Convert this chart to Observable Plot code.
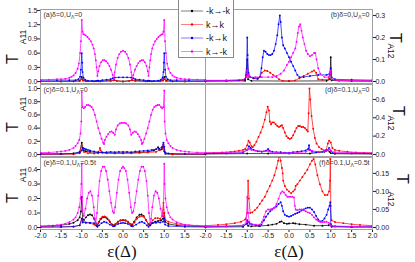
<!DOCTYPE html>
<html><head><meta charset="utf-8">
<script src="https://cdn.jsdelivr.net/npm/d3@7"></script>
<script src="https://cdn.jsdelivr.net/npm/@observablehq/plot@0.6"></script>
<style>
body{margin:0;background:#fff;}
#c{position:relative;width:415px;height:262px;overflow:hidden;font-family:"Liberation Sans",Arial,sans-serif;background:#fff;}
#c svg{position:absolute;overflow:visible;}
#leg{position:absolute;left:178px;top:-1px;width:54px;height:57px;border:1px solid #888;background:#fff;}
</style></head><body><div id="c"></div>
<script>
// ---------- data ----------
const seriesNames = ["-k→-k", "k→k", "-k→k", "k→-k"];
const seriesColors = ["#000000", "#ff0000", "#0000ff", "#ff00ff"];

const xTicksLeft = [-2, -1.5, -1, -0.5, 0, 0.5, 1, 1.5];
const xTicksRight = [-2, -1.5, -1, -0.5, 0, 0.5, 1, 1.5, 2];
const yTicksA = [0, 0.3, 0.6, 0.9, 1.2, 1.5];
const yTicksB = [0, 0.1, 0.2, 0.3];
const yTicksC = [0, 0.2, 0.4, 0.6, 0.8, 1.0];
const yTicksD = [0, 0.2, 0.4, 0.6];
const yTicksE = [0, 0.1, 0.2, 0.3, 0.4];
const yTicksF = [0, 0.05, 0.10, 0.15];

// panel (a) T_A11, δ=0, UΛ=0
const a_black = [[-2,0.005],[-1.5,0.005],[-1.2,0.005],[-1.05,0.02],[-1,0.1],[-0.97,0.03],[-0.9,0.01],[-0.7,0.005],[-0.62,0.02],[-0.55,0.005],[-0.22,0.03],[0,0.003],[0.22,0.03],[0.55,0.005],[0.62,0.02],[0.7,0.005],[0.9,0.01],[0.97,0.03],[1,0.1],[1.05,0.02],[1.2,0.005],[1.5,0.005],[2,0.005]];
const a_red = [[-2,0.003],[-1.5,0.003],[-1.05,0.01],[-1,0.05],[-0.97,0.02],[-0.9,0.005],[-0.6,0.005],[-0.3,0.01],[-0.22,0.03],[-0.15,0.01],[0,0.005],[0.15,0.01],[0.22,0.03],[0.3,0.01],[0.6,0.005],[0.9,0.005],[0.97,0.02],[1,0.05],[1.05,0.01],[1.5,0.003],[2,0.003]];
const a_blue = [[-2,0.03],[-1.6,0.03],[-1.3,0.03],[-1.15,0.03],[-1.08,0.05],[-1.04,0.1],[-1.02,0.25],[-1,0.6],[-0.99,0.4],[-0.98,0.2],[-0.96,0.08],[-0.92,0.04],[-0.85,0.02],[-0.75,0.015],[-0.65,0.015],[-0.6,0.02],[-0.5,0.03],[-0.4,0.04],[-0.3,0.05],[-0.25,0.07],[-0.2,0.085],[-0.1,0.09],[0,0.09],[0.1,0.09],[0.2,0.085],[0.25,0.07],[0.3,0.05],[0.4,0.04],[0.5,0.03],[0.6,0.02],[0.65,0.015],[0.75,0.015],[0.85,0.02],[0.92,0.04],[0.96,0.08],[0.98,0.2],[0.99,0.4],[1,0.6],[1.02,0.25],[1.04,0.1],[1.08,0.05],[1.15,0.03],[1.3,0.03],[1.6,0.03],[2,0.03]];
const a_magenta = [[-2,0.04],[-1.8,0.04],[-1.6,0.05],[-1.5,0.05],[-1.4,0.06],[-1.3,0.08],[-1.25,0.1],[-1.2,0.13],[-1.15,0.18],[-1.1,0.27],[-1.07,0.38],[-1.04,0.6],[-1.02,0.85],[-1,1.3],[-0.98,1.05],[-0.96,1.0],[-0.93,0.99],[-0.9,0.97],[-0.86,0.94],[-0.82,0.9],[-0.78,0.85],[-0.74,0.78],[-0.71,0.7],[-0.68,0.58],[-0.66,0.45],[-0.64,0.3],[-0.62,0.12],[-0.6,0.22],[-0.57,0.33],[-0.53,0.41],[-0.49,0.45],[-0.45,0.45],[-0.41,0.43],[-0.37,0.39],[-0.33,0.33],[-0.29,0.25],[-0.25,0.14],[-0.22,0.06],[-0.2,0.2],[-0.17,0.36],[-0.13,0.5],[-0.09,0.58],[-0.05,0.63],[0,0.65],[0.05,0.63],[0.09,0.58],[0.13,0.5],[0.17,0.36],[0.2,0.2],[0.22,0.06],[0.25,0.14],[0.29,0.25],[0.33,0.33],[0.37,0.39],[0.41,0.43],[0.45,0.45],[0.49,0.45],[0.53,0.41],[0.57,0.33],[0.6,0.22],[0.62,0.12],[0.64,0.3],[0.66,0.45],[0.68,0.58],[0.71,0.7],[0.74,0.78],[0.78,0.85],[0.82,0.9],[0.86,0.94],[0.9,0.97],[0.93,0.99],[0.96,1.0],[0.98,1.05],[1,1.3],[1.02,0.85],[1.04,0.6],[1.07,0.38],[1.1,0.27],[1.15,0.18],[1.2,0.13],[1.25,0.1],[1.3,0.08],[1.4,0.06],[1.5,0.05],[1.6,0.05],[1.8,0.04],[2,0.04]];

// panel (b) T_A12, δ=0, UΛ=0
const b_black = [[-2,0.001],[-1.5,0.002],[-1.05,0.003],[-1,0.1],[-0.98,0.01],[-0.9,0.003],[0,0.002],[0.9,0.003],[0.98,0.01],[1,0.11],[1.02,0.005],[1.5,0.002],[2,0.001]];
const b_red = [[-2,0.003],[-1.5,0.003],[-1.1,0.005],[-1.02,0.02],[-1,0.058],[-0.98,0.03],[-0.95,0.02],[-0.85,0.015],[-0.75,0.01],[-0.7,0.02],[-0.65,0.04],[-0.58,0.05],[-0.52,0.048],[-0.45,0.04],[-0.38,0.03],[-0.3,0.02],[-0.24,0.01],[-0.15,0.003],[0,0.002],[0.15,0.005],[0.25,0.015],[0.35,0.025],[0.45,0.035],[0.55,0.045],[0.6,0.05],[0.65,0.04],[0.7,0.01],[0.8,0.008],[0.95,0.01],[0.98,0.03],[1,0.045],[1.02,0.01],[1.2,0.003],[2,0.003]];
const b_blue = [[-2,0.005],[-1.5,0.005],[-1.2,0.006],[-1.05,0.01],[-1.02,0.03],[-1,0.2],[-0.99,0.12],[-0.97,0.04],[-0.93,0.02],[-0.85,0.015],[-0.75,0.015],[-0.7,0.02],[-0.66,0.06],[-0.63,0.11],[-0.6,0.14],[-0.56,0.135],[-0.52,0.125],[-0.48,0.12],[-0.44,0.12],[-0.4,0.125],[-0.36,0.14],[-0.32,0.17],[-0.28,0.21],[-0.25,0.26],[-0.22,0.3],[-0.2,0.27],[-0.17,0.2],[-0.14,0.165],[-0.1,0.15],[-0.05,0.13],[0,0.11],[0.05,0.09],[0.1,0.07],[0.15,0.05],[0.2,0.03],[0.25,0.02],[0.35,0.02],[0.5,0.025],[0.7,0.03],[0.9,0.03],[0.97,0.035],[1,0.06],[1.02,0.02],[1.1,0.01],[1.5,0.008],[2,0.006]];
const b_magenta = [[-2,0.005],[-1.5,0.005],[-1.1,0.008],[-1.02,0.02],[-1,0.05],[-0.98,0.03],[-0.95,0.02],[-0.8,0.02],[-0.65,0.02],[-0.5,0.02],[-0.4,0.02],[-0.3,0.025],[-0.2,0.035],[-0.12,0.05],[-0.05,0.075],[0,0.09],[0.05,0.11],[0.1,0.13],[0.15,0.15],[0.18,0.18],[0.21,0.22],[0.24,0.25],[0.27,0.26],[0.3,0.23],[0.33,0.2],[0.37,0.17],[0.41,0.14],[0.45,0.125],[0.5,0.115],[0.55,0.12],[0.6,0.13],[0.63,0.13],[0.66,0.1],[0.7,0.06],[0.75,0.035],[0.85,0.02],[0.95,0.02],[0.98,0.04],[1,0.05],[1.02,0.01],[1.2,0.005],[2,0.005]];

// panel (c) T_A11, δ=0.1, UΛ=0
const c_black = [[-2,0.005],[-1.5,0.008],[-1.2,0.015],[-1.05,0.04],[-1,0.18],[-0.98,0.1],[-0.95,0.06],[-0.9,0.05],[-0.8,0.04],[-0.6,0.03],[-0.4,0.025],[-0.2,0.02],[0,0.02],[0.2,0.025],[0.4,0.03],[0.6,0.04],[0.75,0.06],[0.85,0.11],[0.88,0.07],[0.94,0.08],[0.98,0.12],[1,0.05],[1.03,0.01],[1.2,0.005],[2,0.003]];
const c_red = [[-2,0.003],[-1.2,0.005],[-1.05,0.02],[-1,0.14],[-0.98,0.08],[-0.95,0.04],[-0.85,0.02],[-0.7,0.015],[-0.6,0.02],[-0.56,0.1],[-0.54,0.06],[-0.5,0.03],[-0.4,0.02],[-0.2,0.02],[0,0.025],[0.2,0.02],[0.4,0.025],[0.6,0.03],[0.8,0.04],[0.9,0.07],[0.95,0.1],[0.98,0.15],[1,0.08],[1.03,0.02],[1.2,0.005],[2,0.003]];
const c_blue = [[-2,0.01],[-1.5,0.01],[-1.2,0.015],[-1.05,0.03],[-1,0.06],[-0.97,0.1],[-0.94,0.09],[-0.9,0.08],[-0.85,0.07],[-0.8,0.06],[-0.7,0.045],[-0.6,0.035],[-0.5,0.03],[-0.4,0.035],[-0.3,0.04],[-0.2,0.035],[-0.1,0.04],[0,0.04],[0.1,0.04],[0.2,0.035],[0.3,0.045],[0.4,0.05],[0.5,0.055],[0.6,0.06],[0.7,0.07],[0.8,0.08],[0.88,0.09],[0.94,0.11],[0.98,0.18],[1,0.12],[1.02,0.03],[1.1,0.015],[1.5,0.01],[2,0.01]];
const c_magenta = [[-2,0.03],[-1.8,0.03],[-1.6,0.04],[-1.5,0.045],[-1.4,0.055],[-1.3,0.07],[-1.2,0.1],[-1.15,0.13],[-1.1,0.17],[-1.06,0.22],[-1.03,0.32],[-1.01,0.5],[-1,0.95],[-0.98,0.72],[-0.95,0.7],[-0.92,0.72],[-0.88,0.75],[-0.84,0.75],[-0.8,0.74],[-0.76,0.72],[-0.72,0.68],[-0.68,0.6],[-0.64,0.5],[-0.6,0.4],[-0.56,0.32],[-0.52,0.24],[-0.48,0.18],[-0.46,0.16],[-0.44,0.22],[-0.4,0.27],[-0.36,0.31],[-0.32,0.34],[-0.28,0.35],[-0.24,0.33],[-0.2,0.3],[-0.17,0.38],[-0.13,0.44],[-0.08,0.47],[-0.04,0.48],[0,0.48],[0.04,0.48],[0.08,0.47],[0.13,0.44],[0.17,0.38],[0.2,0.3],[0.24,0.33],[0.28,0.35],[0.32,0.34],[0.36,0.31],[0.4,0.27],[0.44,0.22],[0.46,0.16],[0.48,0.18],[0.52,0.24],[0.56,0.32],[0.6,0.4],[0.64,0.5],[0.68,0.6],[0.72,0.68],[0.76,0.72],[0.8,0.74],[0.84,0.75],[0.88,0.75],[0.92,0.72],[0.95,0.7],[0.98,0.72],[1,0.97],[1.01,0.5],[1.03,0.32],[1.06,0.22],[1.1,0.17],[1.15,0.13],[1.2,0.1],[1.3,0.07],[1.4,0.055],[1.5,0.045],[1.6,0.04],[1.8,0.03],[2,0.03]];

// panel (d) T_A12, δ=0.1, UΛ=0
const d_black = [[-2,0.005],[-1,0.01],[-0.5,0.01],[0,0.01],[0.5,0.01],[0.85,0.03],[0.92,0.05],[0.97,0.03],[1,0.015],[1.1,0.008],[2,0.005]];
const d_red = [[-2,0.015],[-1.8,0.018],[-1.6,0.022],[-1.4,0.028],[-1.3,0.033],[-1.2,0.04],[-1.1,0.05],[-1.05,0.06],[-1,0.1],[-0.97,0.15],[-0.94,0.13],[-0.9,0.09],[-0.87,0.08],[-0.83,0.1],[-0.78,0.14],[-0.73,0.19],[-0.68,0.24],[-0.63,0.3],[-0.58,0.38],[-0.54,0.46],[-0.51,0.52],[-0.48,0.48],[-0.46,0.36],[-0.43,0.33],[-0.4,0.35],[-0.36,0.35],[-0.32,0.33],[-0.28,0.31],[-0.24,0.3],[-0.2,0.31],[-0.17,0.32],[-0.14,0.29],[-0.1,0.24],[-0.06,0.2],[-0.02,0.18],[0.02,0.17],[0.06,0.18],[0.1,0.21],[0.14,0.25],[0.18,0.29],[0.22,0.31],[0.26,0.31],[0.3,0.3],[0.34,0.3],[0.38,0.29],[0.42,0.27],[0.45,0.25],[0.47,0.45],[0.49,0.72],[0.51,0.6],[0.54,0.42],[0.58,0.28],[0.62,0.18],[0.66,0.12],[0.72,0.08],[0.78,0.06],[0.84,0.045],[0.89,0.05],[0.93,0.12],[0.96,0.15],[1,0.13],[1.04,0.07],[1.1,0.05],[1.2,0.04],[1.4,0.03],[1.6,0.022],[1.8,0.018],[2,0.015]];
const d_blue = [[-2,0.01],[-1.5,0.012],[-1.1,0.02],[-1,0.05],[-0.96,0.09],[-0.92,0.07],[-0.85,0.05],[-0.75,0.035],[-0.65,0.03],[-0.55,0.04],[-0.5,0.06],[-0.47,0.04],[-0.4,0.03],[-0.3,0.025],[-0.2,0.025],[-0.1,0.02],[0,0.02],[0.1,0.025],[0.2,0.03],[0.3,0.035],[0.4,0.045],[0.46,0.06],[0.48,0.1],[0.5,0.05],[0.55,0.03],[0.65,0.025],[0.8,0.03],[0.9,0.04],[0.96,0.07],[1,0.04],[1.05,0.015],[1.5,0.012],[2,0.01]];
const d_magenta = [[-2,0.02],[-1.5,0.022],[-1.1,0.03],[-1,0.05],[-0.96,0.06],[-0.9,0.05],[-0.8,0.04],[-0.7,0.035],[-0.6,0.035],[-0.5,0.04],[-0.45,0.03],[-0.3,0.02],[-0.1,0.015],[0,0.015],[0.2,0.02],[0.4,0.03],[0.5,0.05],[0.55,0.04],[0.7,0.03],[0.85,0.035],[0.93,0.05],[0.97,0.06],[1,0.04],[1.1,0.025],[1.5,0.02],[2,0.02]];

// panel (e) T_A11, δ=0.1, UΛ=0.5t
const e_black = [[-2,0.008],[-1.7,0.012],[-1.5,0.016],[-1.3,0.025],[-1.2,0.033],[-1.1,0.05],[-1.05,0.07],[-1.02,0.11],[-1,0.21],[-0.98,0.06],[-0.95,0.05],[-0.9,0.07],[-0.85,0.085],[-0.8,0.09],[-0.75,0.085],[-0.7,0.06],[-0.66,0.03],[-0.62,0.015],[-0.58,0.04],[-0.53,0.06],[-0.48,0.07],[-0.43,0.07],[-0.38,0.06],[-0.32,0.04],[-0.26,0.02],[-0.22,0.015],[-0.18,0.025],[-0.12,0.04],[-0.06,0.048],[0,0.05],[0.06,0.048],[0.12,0.04],[0.18,0.025],[0.22,0.02],[0.27,0.04],[0.33,0.07],[0.4,0.088],[0.45,0.09],[0.5,0.08],[0.56,0.05],[0.62,0.02],[0.66,0.015],[0.72,0.03],[0.78,0.04],[0.85,0.045],[0.92,0.05],[0.97,0.06],[1,0.1],[1.02,0.04],[1.1,0.025],[1.3,0.015],[1.5,0.01],[2,0.006]];
const e_red = [[-2,0.003],[-1.5,0.004],[-1.2,0.007],[-1.05,0.015],[-1,0.06],[-0.97,0.045],[-0.9,0.035],[-0.8,0.03],[-0.7,0.02],[-0.64,0.01],[-0.6,0.03],[-0.55,0.06],[-0.5,0.075],[-0.45,0.077],[-0.4,0.07],[-0.34,0.05],[-0.28,0.025],[-0.23,0.012],[-0.18,0.025],[-0.12,0.04],[-0.06,0.05],[0,0.052],[0.06,0.05],[0.12,0.04],[0.18,0.025],[0.23,0.015],[0.28,0.035],[0.34,0.06],[0.4,0.075],[0.45,0.08],[0.5,0.075],[0.56,0.05],[0.62,0.025],[0.66,0.025],[0.72,0.05],[0.78,0.065],[0.84,0.065],[0.9,0.06],[0.95,0.08],[0.98,0.17],[1,0.1],[1.03,0.05],[1.1,0.04],[1.3,0.025],[1.5,0.018],[2,0.01]];
const e_blue = [[-2,0.003],[-1.5,0.004],[-1.2,0.006],[-1.05,0.015],[-1,0.06],[-0.98,0.035],[-0.9,0.033],[-0.8,0.033],[-0.7,0.03],[-0.65,0.015],[-0.62,0.005],[-0.58,0.015],[-0.52,0.03],[-0.46,0.04],[-0.4,0.035],[-0.32,0.02],[-0.24,0.008],[-0.2,0.01],[-0.12,0.025],[-0.05,0.03],[0,0.032],[0.05,0.03],[0.12,0.025],[0.2,0.01],[0.24,0.008],[0.32,0.02],[0.4,0.035],[0.46,0.04],[0.52,0.03],[0.58,0.015],[0.62,0.005],[0.66,0.015],[0.7,0.03],[0.8,0.033],[0.9,0.035],[0.97,0.04],[1,0.065],[1.02,0.02],[1.1,0.01],[1.5,0.005],[2,0.003]];
const e_magenta = [[-2,0.01],[-1.8,0.012],[-1.6,0.016],[-1.5,0.02],[-1.4,0.027],[-1.3,0.037],[-1.2,0.055],[-1.15,0.07],[-1.1,0.1],[-1.06,0.14],[-1.03,0.2],[-1.01,0.3],[-1,0.44],[-0.98,0.12],[-0.95,0.08],[-0.91,0.13],[-0.87,0.2],[-0.83,0.24],[-0.79,0.25],[-0.75,0.22],[-0.71,0.14],[-0.68,0.06],[-0.66,0.03],[-0.63,0.1],[-0.6,0.22],[-0.57,0.32],[-0.53,0.39],[-0.49,0.42],[-0.45,0.42],[-0.41,0.39],[-0.37,0.33],[-0.33,0.25],[-0.29,0.17],[-0.25,0.11],[-0.22,0.1],[-0.19,0.14],[-0.15,0.24],[-0.11,0.33],[-0.07,0.39],[-0.03,0.41],[0,0.42],[0.03,0.41],[0.07,0.39],[0.11,0.33],[0.15,0.24],[0.19,0.14],[0.22,0.1],[0.25,0.11],[0.29,0.17],[0.33,0.25],[0.37,0.33],[0.41,0.39],[0.45,0.42],[0.49,0.42],[0.53,0.39],[0.57,0.32],[0.6,0.22],[0.63,0.1],[0.66,0.03],[0.68,0.06],[0.71,0.14],[0.75,0.22],[0.79,0.25],[0.83,0.24],[0.87,0.2],[0.91,0.13],[0.95,0.08],[0.98,0.12],[1,0.44],[1.01,0.3],[1.03,0.2],[1.06,0.14],[1.1,0.1],[1.15,0.07],[1.2,0.055],[1.3,0.037],[1.4,0.027],[1.5,0.02],[1.6,0.016],[1.8,0.012],[2,0.01]];

// panel (f) T_A12, δ=0.1, UΛ=0.5t
const f_black = [[-2,0.001],[-1.1,0.002],[-1,0.012],[-0.98,0.005],[-0.9,0.003],[-0.7,0.004],[-0.5,0.006],[-0.4,0.008],[-0.3,0.01],[-0.22,0.015],[-0.18,0.017],[-0.12,0.012],[-0.05,0.01],[0,0.011],[0.1,0.012],[0.15,0.011],[0.25,0.009],[0.4,0.008],[0.6,0.005],[0.8,0.005],[0.95,0.006],[1,0.008],[1.02,0.002],[1.5,0.001],[2,0.001]];
const f_red = [[-2,0.005],[-1.7,0.007],[-1.5,0.009],[-1.3,0.012],[-1.15,0.016],[-1.05,0.022],[-1,0.04],[-0.98,0.13],[-0.96,0.08],[-0.93,0.04],[-0.88,0.042],[-0.82,0.048],[-0.76,0.055],[-0.7,0.065],[-0.64,0.075],[-0.58,0.085],[-0.52,0.1],[-0.46,0.115],[-0.4,0.13],[-0.35,0.145],[-0.3,0.165],[-0.26,0.185],[-0.23,0.2],[-0.2,0.185],[-0.17,0.165],[-0.15,0.15],[-0.14,0.13],[-0.1,0.115],[-0.05,0.105],[0,0.1],[0.05,0.095],[0.1,0.1],[0.14,0.105],[0.16,0.115],[0.2,0.12],[0.26,0.13],[0.32,0.14],[0.38,0.15],[0.44,0.16],[0.5,0.175],[0.55,0.185],[0.59,0.19],[0.63,0.175],[0.68,0.145],[0.74,0.12],[0.8,0.1],[0.86,0.09],[0.92,0.09],[0.96,0.1],[0.98,0.13],[0.99,0.19],[1,0.06],[1.02,0.02],[1.1,0.015],[1.3,0.012],[1.5,0.009],[1.7,0.007],[2,0.005]];
const f_blue = [[-2,0.002],[-1.5,0.003],[-1.1,0.005],[-1.02,0.01],[-1,0.02],[-0.98,0.015],[-0.94,0.01],[-0.88,0.008],[-0.8,0.006],[-0.72,0.005],[-0.66,0.008],[-0.6,0.02],[-0.55,0.03],[-0.5,0.038],[-0.45,0.045],[-0.4,0.05],[-0.35,0.055],[-0.3,0.058],[-0.25,0.065],[-0.2,0.07],[-0.17,0.06],[-0.14,0.045],[-0.1,0.035],[-0.05,0.032],[0,0.03],[0.05,0.032],[0.1,0.035],[0.15,0.038],[0.2,0.04],[0.25,0.043],[0.3,0.047],[0.35,0.05],[0.4,0.053],[0.45,0.055],[0.5,0.055],[0.55,0.05],[0.6,0.043],[0.65,0.032],[0.7,0.022],[0.75,0.017],[0.8,0.018],[0.85,0.025],[0.9,0.035],[0.94,0.05],[0.97,0.06],[0.99,0.07],[1,0.01],[1.02,0.004],[1.1,0.003],[1.5,0.002],[2,0.002]];
const f_magenta = [[-2,0.003],[-1.5,0.004],[-1.1,0.006],[-1.02,0.015],[-1,0.085],[-0.98,0.04],[-0.95,0.015],[-0.9,0.01],[-0.8,0.008],[-0.7,0.008],[-0.65,0.015],[-0.6,0.03],[-0.55,0.045],[-0.5,0.05],[-0.45,0.05],[-0.4,0.052],[-0.35,0.055],[-0.3,0.065],[-0.25,0.08],[-0.2,0.095],[-0.16,0.1],[-0.12,0.097],[-0.08,0.09],[-0.04,0.085],[0,0.085],[0.04,0.085],[0.08,0.085],[0.12,0.083],[0.14,0.06],[0.16,0.05],[0.2,0.048],[0.25,0.05],[0.3,0.05],[0.35,0.048],[0.4,0.045],[0.45,0.042],[0.5,0.04],[0.55,0.035],[0.6,0.028],[0.65,0.022],[0.7,0.018],[0.75,0.015],[0.8,0.015],[0.85,0.015],[0.9,0.016],[0.95,0.013],[0.98,0.01],[1,0.005],[1.1,0.004],[1.5,0.003],[2,0.003]];

// ---------- layout ----------
const panels = [
  {col:0,row:0,lab:["(a)δ=0,U","Λ","=0"],dom:[-0.04,1.52],ticks:yTicksA,dig:1,data:[a_black,a_red,a_blue,a_magenta]},
  {col:1,row:0,lab:["(b)δ=0,U","Λ","=0"],dom:[-0.009,0.327],ticks:yTicksB,dig:1,data:[b_black,b_red,b_blue,b_magenta]},
  {col:0,row:1,lab:["(c)δ=0.1,U","Λ","=0"],dom:[-0.03,1.061],ticks:yTicksC,dig:1,data:[c_black,c_red,c_blue,c_magenta]},
  {col:1,row:1,lab:["(d)δ=0.1,U","Λ","=0"],dom:[-0.022,0.763],ticks:yTicksD,dig:1,data:[d_black,d_red,d_blue,d_magenta]},
  {col:0,row:2,lab:["(e)δ=0.1,U","Λ","=0.5t"],dom:[-0.0138,0.483],ticks:yTicksE,dig:1,data:[e_black,e_red,e_blue,e_magenta]},
  {col:1,row:2,lab:["(f)δ=0.1,U","Λ","=0.5t"],dom:[-0.0056,0.194],ticks:yTicksF,dig:2,data:[f_black,f_red,f_blue,f_magenta]},
];
const rows = [{top:0,h:84,mt:9,mb:1},{top:83,h:74,mt:1,mb:1},{top:156,h:106,mt:1,mb:33}];
const cols = [{left:0,w:206,ml:40,mr:1},{left:205,w:210,ml:0,mr:43}];

const container = document.getElementById("c");

panels.forEach(p => {
  const L = p.col === 0, R = rows[p.row], C = cols[p.col];
  const full = p.lab.join("");
  const marks = [Plot.frame({stroke:"#a0a0a0", strokeWidth:1})];
  p.data.forEach((d,i) => {
    marks.push(Plot.line(d,{x:v=>v[0],y:v=>v[1],stroke:seriesColors[i],strokeWidth:1,strokeOpacity:0.7,clip:true}));
    marks.push(Plot.dot(d,{x:v=>v[0],y:v=>v[1],fill:seriesColors[i],r:0.95,clip:true}));
  });
  marks.push(Plot.text([full],{text:t=>t,frameAnchor:L?"top-left":"top-right",textAnchor:L?"start":"end",lineAnchor:"top",dx:L?3:-3,dy:3,fontSize:7,fill:"#333"}));
  const svg = Plot.plot({
    width:C.w, height:R.h,
    marginLeft:C.ml, marginRight:C.mr, marginTop:R.mt, marginBottom:R.mb,
    x:{domain:[-2,2], axis:p.row===2?"bottom":null, ticks:L?xTicksLeft:xTicksRight, tickFormat:v=>v.toFixed(1), tickSize:3, tickPadding:1, label:null},
    y:{domain:p.dom, axis:L?"left":"right", ticks:p.ticks, tickFormat:v=>v.toFixed(p.dig), tickSize:3, tickPadding:0, label:null},
    style:{fontSize:"7px", fontFamily:"Liberation Sans, Arial, sans-serif", color:"#222", background:"transparent", overflow:"visible"},
    marks
  });
  svg.style.left = C.left + "px";
  svg.style.top = R.top + "px";
  d3.select(svg).selectAll("text").filter(function(){return this.textContent === full;}).each(function(){
    const t = d3.select(this);
    t.text(null);
    t.append("tspan").text(p.lab[0]);
    t.append("tspan").attr("font-size",5).attr("dy",2).text(p.lab[1]);
    t.append("tspan").attr("dy",-2).text(p.lab[2]);
  });
  container.appendChild(svg);
});

// axis titles overlay
const ov = d3.select(container).append("svg").attr("width",415).attr("height",262).style("left","0px").style("top","0px").style("pointer-events","none");
const leftTitles = [{t:59,s:37},{t:127,s:104},{t:198,s:175}];
leftTitles.forEach(o => {
  ov.append("text").attr("transform",`translate(18,${o.t}) rotate(-90)`).attr("text-anchor","middle").attr("font-family","Liberation Sans, Arial, sans-serif").attr("font-size",16).attr("fill","#111").text("T");
  ov.append("text").attr("transform",`translate(25.5,${o.s}) rotate(-90)`).attr("text-anchor","middle").attr("font-family","Liberation Sans, Arial, sans-serif").attr("font-size",8.5).attr("fill","#111").text("A11");
});
const rightTitles = [{x:390,t:38,sx:388,s:51},{x:393,t:111,sx:388,s:123},{x:397,t:179,sx:388,s:199}];
rightTitles.forEach(o => {
  ov.append("text").attr("transform",`translate(${o.x},${o.t}) rotate(90)`).attr("text-anchor","middle").attr("font-family","Liberation Sans, Arial, sans-serif").attr("font-size",16).attr("fill","#111").text("T");
  ov.append("text").attr("transform",`translate(${o.sx},${o.s}) rotate(90)`).attr("text-anchor","middle").attr("font-family","Liberation Sans, Arial, sans-serif").attr("font-size",8.5).attr("fill","#111").text("A12");
});
[122,289].forEach(x => {
  ov.append("text").attr("x",x).attr("y",257).attr("text-anchor","middle").attr("font-family","Liberation Serif, Times New Roman, serif").attr("font-size",17).attr("fill","#111").text("ε(Δ)");
});

// legend
const leg = d3.select(container).append("div").attr("id","leg");
const ls = leg.append("svg").attr("width",54).attr("height",57).style("left","0px").style("top","0px");
seriesNames.forEach((n,i) => {
  const y = 11 + i*13.5;
  ls.append("line").attr("x1",2).attr("x2",24).attr("y1",y).attr("y2",y).attr("stroke",seriesColors[i]).attr("stroke-opacity",0.5).attr("stroke-width",1);
  ls.append("circle").attr("cx",13).attr("cy",y).attr("r",1.2).attr("fill",seriesColors[i]);
  ls.append("text").attr("x",27).attr("y",y+3).attr("font-size",9).attr("font-family","Liberation Sans, Arial, sans-serif").attr("fill","#111").text(n);
});
</script></body></html>
